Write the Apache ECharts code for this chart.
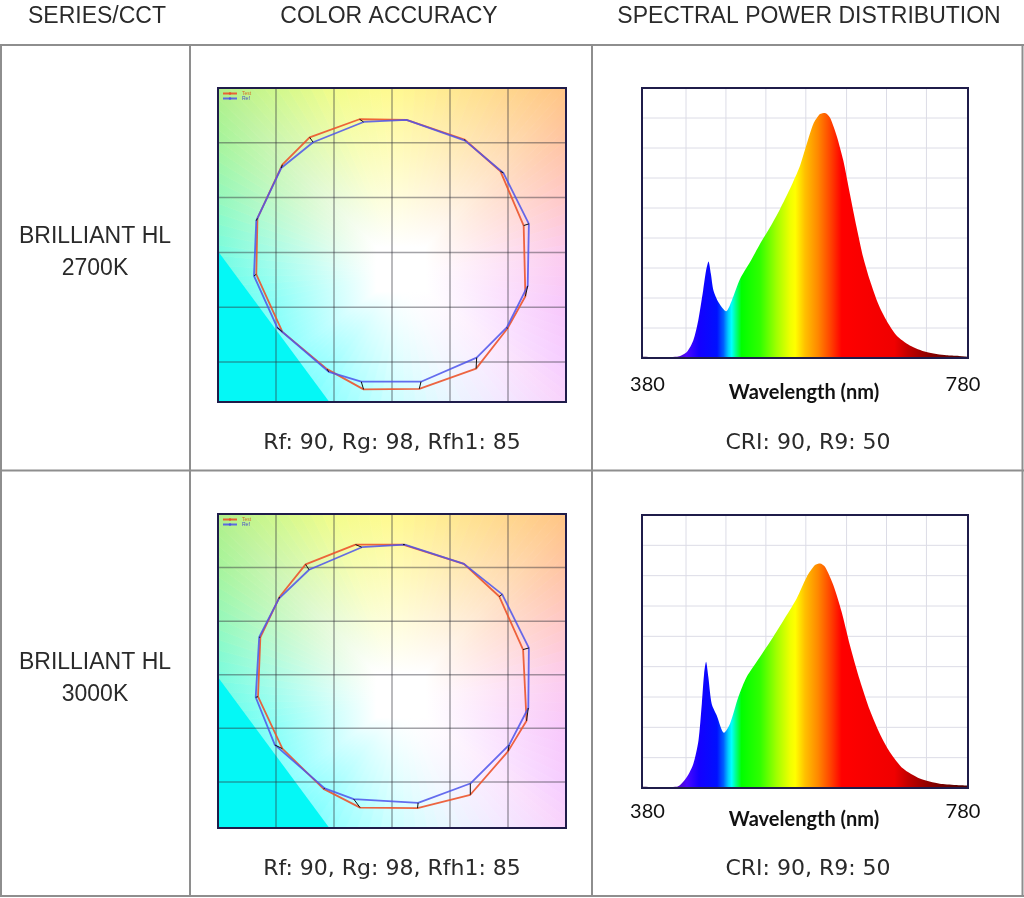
<!DOCTYPE html>
<html><head><meta charset="utf-8">
<script src="https://cdn.jsdelivr.net/npm/echarts@6/dist/echarts.min.js"></script>
<style>html,body{margin:0;padding:0;background:#fff}#c{width:1024px;height:898px}</style>
</head><body><div id="c"></div>
<script>
// ---------------- DATA ----------------
const headers = ['SERIES/CCT', 'COLOR ACCURACY', 'SPECTRAL POWER DISTRIBUTION'];
const rowLabels = ['BRILLIANT HL\n2700K', 'BRILLIANT HL\n3000K'];
const colorCaptions = ['Rf: 90, Rg: 98, Rfh1: 85', 'Rf: 90, Rg: 98, Rfh1: 85'];
const spdCaptions = ['CRI: 90, R9: 50', 'CRI: 90, R9: 50'];
const legendNames = ['Test', 'Ref'];

// colour vector graphic: 16 hue-bin vertices (reference / test)
const refPts2700 = [[-0.49,2.38],[0.25,2.42],[1.26,2.04],[1.92,1.45],[2.36,0.52],[2.34,-0.61],[1.98,-1.37],[1.46,-1.92],[0.50,-2.36],[-0.53,-2.36],[-1.09,-2.18],[-1.98,-1.37],[-2.38,-0.43],[-2.34,0.58],[-1.91,1.54],[-1.36,2.01]];
const testPts2700 = [[-0.56,2.43],[0.25,2.42],[1.25,2.06],[1.87,1.48],[2.27,0.49],[2.30,-0.80],[1.99,-1.39],[1.45,-2.12],[0.47,-2.49],[-0.49,-2.50],[-1.12,-2.13],[-1.89,-1.45],[-2.34,-0.40],[-2.32,0.62],[-1.89,1.60],[-1.42,2.10]];
const refPts3000 = [[-0.52,2.38],[0.22,2.43],[1.24,2.07],[1.90,1.50],[2.36,0.50],[2.35,-0.62],[2.02,-1.31],[1.35,-2.03],[0.45,-2.39],[-0.66,-2.32],[-1.16,-2.12],[-2.02,-1.31],[-2.35,-0.42],[-2.29,0.70],[-1.95,1.42],[-1.43,1.96]];
const testPts3000 = [[-0.63,2.43],[0.19,2.43],[1.24,2.07],[1.85,1.46],[2.26,0.47],[2.32,-0.86],[2.00,-1.43],[1.35,-2.24],[0.44,-2.49],[-0.55,-2.48],[-1.18,-2.13],[-1.89,-1.38],[-2.31,-0.41],[-2.27,0.70],[-1.94,1.45],[-1.49,2.06]];
const colorGridTicks = [-2, -1, 0, 1, 2];

// spectral power distribution (relative units)
const wl2700 = [380,400,423,435,443,449,455,458.5,461.6,464.5,467.7,473.8,483.2,490.2,500.4,512.6,524.9,537.1,549.4,561.6,573.9,582.1,590.2,598.4,604.5,610.6,618.8,627,635.1,643.3,651.4,659.6,669.8,680,692.3,708.6,729,753.6,780];
const spd2700 = [0.004,0.003,0.004,0.020,0.059,0.125,0.225,0.290,0.322,0.281,0.225,0.186,0.156,0.192,0.264,0.320,0.381,0.436,0.497,0.564,0.641,0.713,0.780,0.813,0.817,0.802,0.741,0.658,0.547,0.436,0.336,0.259,0.181,0.125,0.075,0.042,0.020,0.009,0.006];
const wl3000 = [380,400,423,435,443,449.3,453.4,456.2,458.6,461.4,465.5,471.6,480.6,488,498.2,508.4,524.7,541,557.6,569.8,582.1,592.3,598.4,604.5,614.7,624.9,635.1,647.3,659.6,671.8,684,700.4,720.8,745.3,780];
const spd3000 = [0.004,0.003,0.004,0.036,0.080,0.157,0.278,0.377,0.416,0.366,0.278,0.240,0.182,0.212,0.300,0.366,0.432,0.498,0.570,0.625,0.696,0.735,0.740,0.729,0.669,0.581,0.471,0.355,0.256,0.179,0.119,0.064,0.031,0.014,0.008];
const spdGridX = [434, 483, 532, 581, 631, 680, 729];
const spdGridY = [0.1, 0.2, 0.3, 0.4, 0.5, 0.6, 0.7, 0.8];
const spdTickLabels = ['380', '780'];
const spdAxisTitle = 'Wavelength (nm)';

// ---------------- STYLE / LAYOUT ----------------
const LINE = '#8e8e8e';
const FRAME = '#1f1c4a';
const TXT = '#2a2a2a';
const FONT = '"Liberation Sans", Arial, sans-serif';
const FONT2 = 'Lato, "Open Sans", sans-serif';

const perimAnchors = [
  [0.0,'#b0f088'],[0.17,'#d0f88c'],[0.335,'#f2fc8a'],[0.5,'#fffa90'],[0.67,'#ffe890'],[0.835,'#ffd68c'],[1.0,'#ffc484'],
  [1.175,'#ffc4a4'],[1.35,'#ffc8c8'],[1.525,'#fccbee'],[1.7,'#f8c8fc'],[1.87,'#f6ccff'],[2.0,'#f8d2fc'],
  [2.165,'#f4e6ff'],[2.33,'#eaf6ff'],[2.5,'#ccffff'],[2.665,'#96ffff'],[2.75,'#70ffff'],[3.0,'#30ffff'],
  [3.3,'#50fff2'],[3.475,'#78fce0'],[3.65,'#94f8bc'],[3.825,'#a6f49c'],[4.0,'#b0f088']
];
function hex2rgb(h){return [parseInt(h.slice(1,3),16),parseInt(h.slice(3,5),16),parseInt(h.slice(5,7),16)];}
function perimColor(t){
  for(let i=0;i<perimAnchors.length-1;i++){
    const a=perimAnchors[i],b=perimAnchors[i+1];
    if(t>=a[0]&&t<=b[0]){
      const f=(t-a[0])/(b[0]-a[0]);const ca=hex2rgb(a[1]),cb=hex2rgb(b[1]);
      return 'rgb('+ca.map((v,k)=>Math.round(v+(cb[k]-v)*f)).join(',')+')';
    }
  }
  return perimAnchors[0][1];
}
function colorBg(params, api){
  const cs=params.coordSys; const x0=cs.x,y0=cs.y,w=cs.width,h=cs.height;
  const cx=x0+0.53*w, cy=y0+0.59*h;
  const perim=t=>t<=1?[x0+t*w,y0]:t<=2?[x0+w,y0+(t-1)*h]:t<=3?[x0+w-(t-2)*w,y0+h]:[x0,y0+h-(t-3)*h];
  const ch=[];
  const N=120;
  for(let i=0;i<N;i++){
    const t1=i/N*4,t2=(i+1)/N*4,tm=(t1+t2)/2;
    const pm=perim(tm);
    const g=new echarts.graphic.LinearGradient(cx,cy,pm[0],pm[1],[{offset:0,color:'#ffffff'},{offset:0.14,color:'#ffffff'},{offset:1,color:perimColor(tm)}],true);
    ch.push({type:'polygon',shape:{points:[[cx,cy],perim(t1),perim(t2)]},style:{fill:g,stroke:g,lineWidth:0.8}});
  }
  ch.push({type:'polygon',shape:{points:[[x0,y0+0.52*h],[x0+0.32*w,y0+h],[x0,y0+h]]},style:{fill:'#04f8f6'}});
  colorGridTicks.forEach(v=>{
    const px=api.coord([v,0])[0], py=api.coord([0,v])[1];
    ch.push({type:'line',shape:{x1:px,y1:y0,x2:px,y2:y0+h},style:{stroke:'rgba(50,50,60,0.45)',lineWidth:1.5}});
    ch.push({type:'line',shape:{x1:x0,y1:py,x2:x0+w,y2:py},style:{stroke:'rgba(50,50,60,0.45)',lineWidth:1.5}});
  });
  return {type:'group',children:ch};
}
function spdBg(params, api){
  const cs=params.coordSys; const x0=cs.x,y0=cs.y,w=cs.width,h=cs.height;
  const ch=[{type:'rect',shape:{x:x0,y:y0,width:w,height:h},style:{fill:'#ffffff'}}];
  spdGridX.forEach(v=>{const px=api.coord([v,0])[0];ch.push({type:'line',shape:{x1:px,y1:y0,x2:px,y2:y0+h},style:{stroke:'#dcdce6',lineWidth:1}});});
  spdGridY.forEach(v=>{const py=api.coord([400,v])[1];ch.push({type:'line',shape:{x1:x0,y1:py,x2:x0+w,y2:py},style:{stroke:'#dcdce6',lineWidth:1}});});
  return {type:'group',children:ch};
}
function frame(params){
  const cs=params.coordSys;
  return {type:'rect',shape:{x:cs.x,y:cs.y,width:cs.width,height:cs.height},style:{fill:'none',stroke:FRAME,lineWidth:2}};
}
function connectors(params, api){
  const a=api.coord([api.value(0),api.value(1)]), b=api.coord([api.value(2),api.value(3)]);
  return {type:'line',shape:{x1:a[0],y1:a[1],x2:b[0],y2:b[1]},style:{stroke:'#111',lineWidth:1}};
}
const specStops=[[380,'#300040'],[420,'#5000b0'],[435,'#4a08ff'],[450,'#1400ff'],[472,'#0010ff'],[480,'#0060ff'],[486,'#00d0ff'],[490,'#00ffff'],[495,'#00ff90'],[502,'#00ff00'],[525,'#30ff00'],[545,'#a0ff00'],[562,'#f0ff00'],[568,'#ffff00'],[580,'#ffc000'],[596,'#ff8800'],[612,'#ff4000'],[625,'#ff0000'],[690,'#f00000'],[706,'#c40000'],[735,'#880000'],[780,'#4a0000']];
const specGrad=()=>new echarts.graphic.LinearGradient(0,0,1,0,specStops.map(s=>({offset:(s[0]-380)/400,color:s[1]})));

const colorGrids=[{left:218,top:88,width:348,height:314},{left:218,top:514,width:348,height:314}];
const colorYRange=[[-2.73,3.0],[-2.86,3.0]];
const spdGrids=[{left:642,top:88,width:326,height:270},{left:642,top:515,width:326,height:273}];
const rowRefs=[refPts2700,refPts3000], rowTests=[testPts2700,testPts3000];
const rowWl=[wl2700,wl3000], rowSpd=[spd2700,spd3000];
const rowY=[0,426];

const grid=[],xAxis=[],yAxis=[],series=[],legend=[];
for(let r=0;r<2;r++){
  const ci=grid.length; grid.push(colorGrids[r]);
  xAxis.push({type:'value',gridIndex:ci,min:-3,max:3,show:false});
  yAxis.push({type:'value',gridIndex:ci,min:colorYRange[r][0],max:colorYRange[r][1],show:false});
  const si=grid.length; grid.push(spdGrids[r]);
  xAxis.push({type:'value',gridIndex:si,min:380,max:780,show:false});
  yAxis.push({type:'value',gridIndex:si,min:0,max:0.9,show:false});

  series.push({type:'custom',xAxisIndex:ci,yAxisIndex:ci,data:[[0,0]],renderItem:colorBg,z:1,silent:true});
  const close=p=>p.concat([p[0]]);
  series.push({name:'Test',type:'line',xAxisIndex:ci,yAxisIndex:ci,data:close(rowTests[r]),symbol:'none',z:3,lineStyle:{color:'rgba(236,84,44,0.9)',width:1.8},itemStyle:{color:'#e8502a'}});
  series.push({name:'Ref',type:'line',xAxisIndex:ci,yAxisIndex:ci,data:close(rowRefs[r]),symbol:'none',z:4,lineStyle:{color:'rgba(76,84,235,0.85)',width:1.8},itemStyle:{color:'#4a50e8'}});
  series.push({type:'custom',xAxisIndex:ci,yAxisIndex:ci,data:rowRefs[r].map((p,i)=>[p[0],p[1],rowTests[r][i][0],rowTests[r][i][1]]),encode:{x:[0,2],y:[1,3]},renderItem:connectors,z:5,silent:true});
  series.push({type:'custom',xAxisIndex:ci,yAxisIndex:ci,data:[[0,0]],renderItem:frame,z:10,silent:true});

  series.push({type:'custom',xAxisIndex:si,yAxisIndex:si,data:[[500,0.1]],renderItem:spdBg,z:1,silent:true});
  series.push({type:'line',xAxisIndex:si,yAxisIndex:si,data:rowWl[r].map((w,i)=>[w,rowSpd[r][i]]),symbol:'none',smooth:0.25,z:3,lineStyle:{width:0},areaStyle:{color:specGrad(),opacity:1},silent:true});
  series.push({type:'custom',xAxisIndex:si,yAxisIndex:si,data:[[500,0.1]],renderItem:frame,z:10,silent:true});

  legend.push({data:[{name:'Test',textStyle:{color:'#d0702a'}},{name:'Ref',textStyle:{color:'#4a50c8'}}],orient:'vertical',left:colorGrids[r].left+4,top:colorGrids[r].top+3,itemWidth:14,itemHeight:3,itemGap:0,padding:0,textStyle:{fontSize:5},selectedMode:false});
}

const graphic=[];
const hl=(x1,y1,x2,y2)=>graphic.push({type:'line',shape:{x1,y1,x2,y2},style:{stroke:LINE,lineWidth:2},silent:true});
hl(0,45,1024,45);hl(0,470.5,1024,470.5);hl(0,896,1024,896);
hl(1,45,1,896);hl(1022.5,45,1022.5,896);hl(190,45,190,896);hl(592,45,592,896);
const txt=(text,x,y,size,fam,weight,fill)=>graphic.push({type:'text',x,y,silent:true,style:{text,fill:fill||TXT,fontSize:size,fontFamily:fam,fontWeight:weight||'normal',align:'center',verticalAlign:'middle'}});
[97,389,809].forEach((x,i)=>txt(headers[i],x,17,23,FONT));
for(let r=0;r<2;r++){
  const dy=rowY[r];
  graphic.push({type:'text',x:95,y:252.5+dy,silent:true,style:{text:rowLabels[r],fill:TXT,fontSize:23,fontFamily:FONT,lineHeight:32,align:'center',verticalAlign:'middle'}});
  txt(colorCaptions[r],392,443+dy,22,'"DejaVu Sans", sans-serif');
  txt(spdCaptions[r],808,443+dy,22,'"DejaVu Sans", sans-serif');
  const sdy = r===0?0:427;
  txt(spdTickLabels[0],647.5,385+sdy,20,FONT2,'normal','#111');
  txt(spdTickLabels[1],963,385+sdy,20,FONT2,'normal','#111');
  txt(spdAxisTitle,804,393+sdy,20,FONT2,'bold','#111');
}

const chart=echarts.init(document.getElementById('c'),null,{renderer:'canvas'});
chart.setOption({animation:false,backgroundColor:'#ffffff',grid,xAxis,yAxis,series,legend,graphic});
</script></body></html>
